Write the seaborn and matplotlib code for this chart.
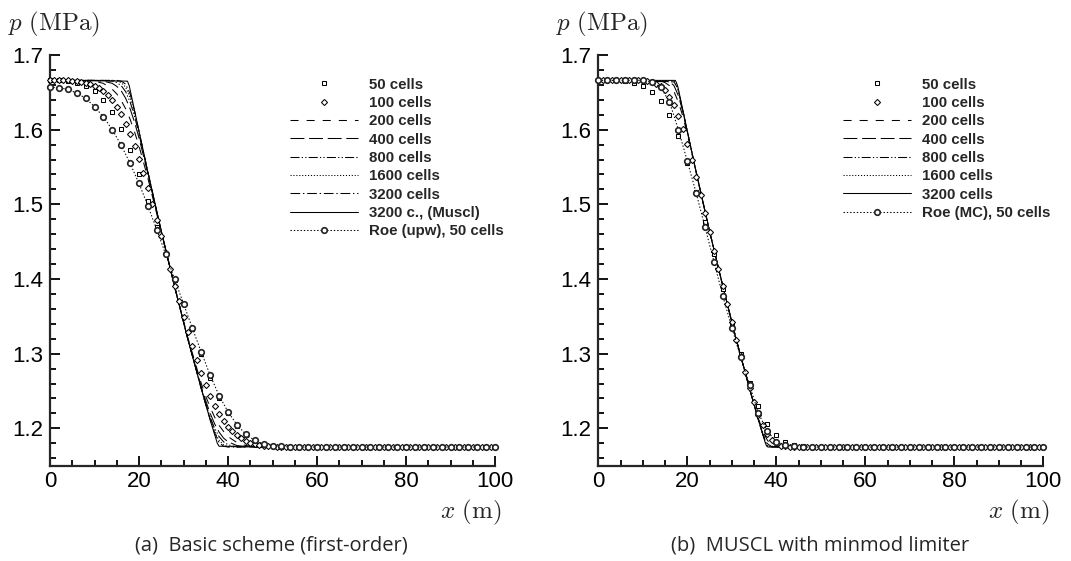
import matplotlib
matplotlib.use("Agg")
import matplotlib.pyplot as plt
from matplotlib.ticker import MultipleLocator, FormatStrFormatter
import seaborn as sns

# ---------------------------------------------------------------------------
# Pressure profiles p(x) [MPa] of the rarefaction wave, x in metres
# ---------------------------------------------------------------------------
P_L = 1.666   # undisturbed left state
P_R = 1.175   # undisturbed right state

x_50 = list(range(0, 101, 2))     # nodes, 50 cells
x_100 = list(range(0, 101))       # nodes, 100 cells

# (a) basic first-order scheme
a_p50 = [1.666, 1.666, 1.665, 1.663, 1.659, 1.652, 1.640, 1.623, 1.601, 1.573,
         1.540, 1.505, 1.469, 1.433, 1.399, 1.366, 1.333, 1.300, 1.268, 1.241,
         1.220, 1.203, 1.191, 1.183, 1.178, 1.176] + [P_R] * 25
a_p100 = [P_L] * 5 + [
    1.665, 1.665, 1.664, 1.663, 1.661, 1.659, 1.656, 1.652, 1.647, 1.640,
    1.631, 1.621, 1.608, 1.594, 1.578, 1.561, 1.542, 1.522, 1.501, 1.479,
    1.457, 1.435, 1.413, 1.391, 1.370, 1.349, 1.329, 1.310, 1.292, 1.274,
    1.258, 1.243, 1.230, 1.219, 1.210, 1.202, 1.196, 1.191, 1.187, 1.183,
    1.181, 1.179, 1.178, 1.177, 1.176, 1.176] + [P_R] * 50
a_roe = [1.657, 1.656, 1.654, 1.649, 1.642, 1.631, 1.617, 1.600, 1.579, 1.555,
         1.528, 1.498, 1.466, 1.433, 1.400, 1.367, 1.334, 1.302, 1.271, 1.244,
         1.222, 1.205, 1.192, 1.184, 1.179, 1.177, 1.176] + [P_R] * 24

a200_x = [0, 10, 12, 14, 15, 16, 17, 18, 19, 20, 22, 25, 28, 31, 34, 35, 36, 37, 38, 39, 40, 42, 44, 47, 100]
a200_p = [1.666, 1.665, 1.662, 1.654, 1.648, 1.639, 1.628, 1.614, 1.597, 1.578, 1.535, 1.463, 1.390,
          1.321, 1.260, 1.243, 1.228, 1.215, 1.204, 1.196, 1.189, 1.181, 1.177, 1.175, 1.175]
a400_x = [0, 10, 12, 14, 15, 16, 17, 18, 19, 20, 22, 25, 28, 31, 34, 35, 36, 37, 38, 39, 40, 42, 44, 47, 100]
a400_p = [1.666, 1.666, 1.665, 1.662, 1.658, 1.652, 1.642, 1.628, 1.610, 1.589, 1.541, 1.464, 1.390,
          1.319, 1.255, 1.237, 1.220, 1.206, 1.195, 1.187, 1.182, 1.177, 1.1755, 1.175, 1.175]
a800_x = [0, 12, 14, 15, 16, 17, 18, 19, 20, 22, 25, 28, 31, 34, 35, 36, 37, 38, 39, 40, 42, 100]
a800_p = [1.666, 1.666, 1.665, 1.663, 1.659, 1.651, 1.637, 1.618, 1.594, 1.543, 1.464, 1.390,
          1.319, 1.254, 1.233, 1.215, 1.200, 1.189, 1.182, 1.178, 1.175, 1.175]
a1600_x = [0, 14, 15, 16, 17, 18, 19, 20, 22, 25, 28, 31, 34, 35, 36, 37, 38, 39, 40, 100]
a1600_p = [1.666, 1.666, 1.6655, 1.663, 1.657, 1.643, 1.623, 1.597, 1.543, 1.464, 1.390,
           1.319, 1.253, 1.232, 1.213, 1.196, 1.184, 1.178, 1.1755, 1.175]
a3200_x = [0, 15, 16, 17, 18, 19, 20, 22, 25, 28, 31, 34, 35, 36, 37, 38, 39, 40, 100]
a3200_p = [1.666, 1.666, 1.665, 1.661, 1.648, 1.625, 1.598, 1.543, 1.464, 1.390, 1.319,
           1.253, 1.232, 1.212, 1.194, 1.181, 1.176, 1.175, 1.175]
a3200m_x = [0, 17.4, 17.8, 20, 22, 25, 28, 31, 34, 36, 37.6, 38.0, 100]
a3200m_p = [1.666, 1.665, 1.659, 1.598, 1.543, 1.464, 1.390, 1.319, 1.253, 1.211, 1.180, 1.176, 1.175]

# (b) MUSCL with minmod limiter
b_p50 = [1.666, 1.666, 1.666, 1.665, 1.662, 1.658, 1.651, 1.638, 1.619, 1.592,
         1.556, 1.516, 1.477, 1.433, 1.387, 1.341, 1.299, 1.261, 1.230, 1.206,
         1.191, 1.182, 1.178, 1.176] + [P_R] * 27
b_p100 = [P_L] * 10 + [
    1.665, 1.665, 1.664, 1.661, 1.658, 1.653, 1.644, 1.633, 1.618, 1.601,
    1.581, 1.560, 1.537, 1.513, 1.488, 1.463, 1.438, 1.414, 1.390, 1.366,
    1.342, 1.319, 1.297, 1.275, 1.254, 1.235, 1.218, 1.204, 1.193, 1.185,
    1.180, 1.177, 1.176, 1.1755] + [P_R] * 57
b_roe = [P_L] * 6 + [
    1.664, 1.657, 1.637, 1.600, 1.558, 1.515, 1.469, 1.423, 1.377, 1.335,
    1.295, 1.258, 1.220, 1.196, 1.182, 1.178, 1.176] + [P_R] * 28

b200_x = [0, 14, 15, 16, 17, 18, 19, 20, 22, 25, 28, 31, 34, 35, 36, 37, 38, 39, 40, 100]
b200_p = [1.666, 1.665, 1.663, 1.659, 1.651, 1.637, 1.618, 1.594, 1.543, 1.464, 1.390,
          1.319, 1.253, 1.232, 1.213, 1.196, 1.184, 1.178, 1.1755, 1.175]
b400_x = [0, 16, 17, 18, 19, 20, 22, 25, 28, 31, 34, 36, 37, 38, 39, 100]
b400_p = [1.666, 1.6645, 1.659, 1.6455, 1.624, 1.597, 1.543, 1.464, 1.390, 1.319, 1.253,
          1.211, 1.192, 1.1795, 1.1755, 1.175]
b800_x = [0, 17, 17.6, 18, 19, 20, 22, 25, 28, 31, 34, 36, 37, 37.8, 38, 39, 100]
b800_p = [1.666, 1.664, 1.658, 1.651, 1.626, 1.598, 1.543, 1.464, 1.390, 1.319, 1.253,
          1.211, 1.191, 1.179, 1.177, 1.175, 1.175]
b1600_x = [0, 17, 17.6, 18, 19, 20, 22, 25, 28, 31, 34, 36, 37, 37.8, 38, 100]
b1600_p = [1.666, 1.6655, 1.661, 1.653, 1.626, 1.598, 1.543, 1.464, 1.390, 1.319, 1.253,
           1.211, 1.191, 1.178, 1.176, 1.175]
b3200_x = [0, 17.3, 17.6, 17.9, 20, 22, 25, 28, 31, 34, 36, 37.5, 37.8, 38.1, 100]
b3200_p = [1.666, 1.666, 1.6625, 1.657, 1.598, 1.543, 1.464, 1.390, 1.319, 1.253, 1.211,
           1.181, 1.1765, 1.175, 1.175]

labels_a = ["50 cells", "100 cells", "200 cells", "400 cells", "800 cells",
            "1600 cells", "3200 cells", "3200 c., (Muscl)", "Roe (upw), 50 cells"]
labels_b = ["50 cells", "100 cells", "200 cells", "400 cells", "800 cells",
            "1600 cells", "3200 cells", "Roe (MC), 50 cells"]

# ---------------------------------------------------------------------------
# Styles
# ---------------------------------------------------------------------------
sns.set_style("ticks")
plt.rcParams["font.family"] = ["Liberation Sans", "DejaVu Sans"]
plt.rcParams["mathtext.fontset"] = "cm"
plt.rcParams["lines.scale_dashes"] = False

LW = 0.75
SQUARE = dict(marker="s", markersize=3.2, mfc="white", mec="black", mew=0.75,
              linestyle="none", clip_on=False, zorder=5)
DIAMOND = dict(marker="D", markersize=3.1, mfc="white", mec="black", mew=0.75,
               linestyle="none", clip_on=False, zorder=5)
CIRCLE = dict(marker="o", markersize=4.0, mfc="white", mec="#222222", mew=1.2,
              linestyle=(0, (1.0, 1.4)), lw=LW, clip_on=False, zorder=6)
DASH200 = dict(linestyle=(0, (5.8, 5.8)), lw=LW)
DASH400 = dict(linestyle=(0, (10.0, 3.4)), lw=LW)
DASH800 = dict(linestyle=(0, (6.5, 1.6, 0.9, 1.6, 0.9, 1.6)), lw=LW)
DOT1600 = dict(linestyle=(0, (0.8, 1.3)), lw=LW)
DASHDOT3200 = dict(linestyle=(0, (7.0, 2.0, 1.0, 2.0)), lw=LW)
SOLID = dict(linestyle="-", lw=LW)

series_a = [
    (labels_a[0], x_50, a_p50, SQUARE),
    (labels_a[1], x_100, a_p100, DIAMOND),
    (labels_a[2], a200_x, a200_p, DASH200),
    (labels_a[3], a400_x, a400_p, DASH400),
    (labels_a[4], a800_x, a800_p, DASH800),
    (labels_a[5], a1600_x, a1600_p, DOT1600),
    (labels_a[6], a3200_x, a3200_p, DASHDOT3200),
    (labels_a[7], a3200m_x, a3200m_p, SOLID),
    (labels_a[8], x_50, a_roe, CIRCLE),
]
series_b = [
    (labels_b[0], x_50, b_p50, SQUARE),
    (labels_b[1], x_100, b_p100, DIAMOND),
    (labels_b[2], b200_x, b200_p, DASH200),
    (labels_b[3], b400_x, b400_p, DASH400),
    (labels_b[4], b800_x, b800_p, DASH800),
    (labels_b[5], b1600_x, b1600_p, DOT1600),
    (labels_b[6], b3200_x, b3200_p, SOLID),
    (labels_b[7], x_50, b_roe, CIRCLE),
]

W, H = 1071, 561
fig = plt.figure(figsize=(W / 100, H / 100), dpi=100)
ax_l, ax_b, ax_w, ax_h = 50, 465.7, 445, 410.7
axes = [fig.add_axes([ax_l / W, 1 - ax_b / H, ax_w / W, ax_h / H]),
        fig.add_axes([598.3 / W, 1 - ax_b / H, ax_w / W, ax_h / H])]


def draw(ax, series, legend_x):
    for label, xs, ys, st in series:
        sns.lineplot(x=xs, y=ys, ax=ax, color="black", label=label,
                     estimator=None, sort=False, **st)
    ax.set_xlim(0, 100)
    ax.set_ylim(1.15, 1.7)
    ax.xaxis.set_major_locator(MultipleLocator(20))
    ax.xaxis.set_minor_locator(MultipleLocator(5))
    ax.yaxis.set_major_locator(MultipleLocator(0.1))
    ax.yaxis.set_minor_locator(MultipleLocator(0.02))
    ax.yaxis.set_major_formatter(FormatStrFormatter("%.1f"))
    ax.xaxis.set_major_formatter(FormatStrFormatter("%d"))
    for side in ("top", "right"):
        ax.spines[side].set_visible(False)
    for side in ("left", "bottom"):
        ax.spines[side].set_linewidth(1.6)
    ax.tick_params(which="both", direction="in", width=1.3, colors="black",
                   labelsize=16)
    ax.tick_params(which="major", length=7.5)
    ax.tick_params(which="minor", length=4.5)
    ax.tick_params(axis="y", pad=5)
    ax.tick_params(axis="x", pad=4)
    ax.set_xlabel("")
    ax.set_ylabel("")
    ax.set_facecolor("white")
    handles, labels = ax.get_legend_handles_labels()
    ax.legend(handles, labels, loc="upper left", bbox_to_anchor=(legend_x, 0.945),
              frameon=False, borderpad=0, borderaxespad=0, handlelength=4.5,
              handletextpad=0.75, labelspacing=0.29, numpoints=1,
              prop=dict(family="Liberation Sans", weight="bold", size=10.8))


draw(axes[0], series_a, (290 - 50) / 445)
draw(axes[1], series_b, (843 - 598.3) / 445)

# axis titles and sub-captions
for x0 in (8, 556):
    fig.text(x0 / W, 1 - 30 / H, r"$p\ (\mathrm{MPa})$", fontsize=18,
             ha="left", va="baseline")
for x1 in (501, 1049):
    fig.text(x1 / W, 1 - 518 / H, r"$x\ (\mathrm{m})$", fontsize=18,
             ha="right", va="baseline")
fig.text(271 / W, 1 - 545 / H, "(a)  Basic scheme (first-order)",
         fontsize=14.5, family="Open Sans", ha="center", va="center")
fig.text(820 / W, 1 - 545 / H, "(b)  MUSCL with minmod limiter",
         fontsize=14.5, family="Open Sans", ha="center", va="center")

fig.savefig("out.png", dpi=100, facecolor="white")
